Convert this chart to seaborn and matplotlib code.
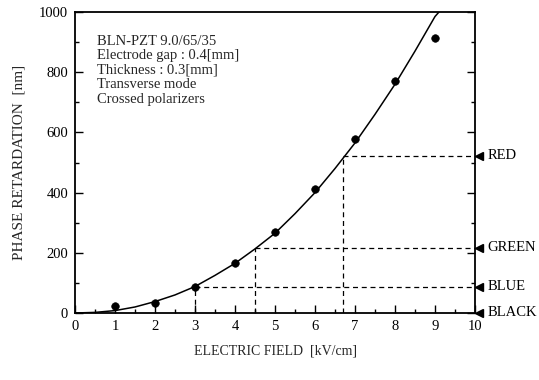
import matplotlib
matplotlib.use("Agg")
import matplotlib.pyplot as plt
import matplotlib.transforms as mtransforms
import seaborn as sns
import pandas as pd
from matplotlib.ticker import MultipleLocator

# measured points
field = [1, 2, 3, 4, 5, 6, 7, 8, 9]
retard = [23, 33, 86, 166, 269, 412, 578, 771, 915]

# fitted curve
curve_x = [0, 0.5, 1, 1.5, 2, 2.5, 3, 3.5, 4, 4.5, 5, 5.5, 6, 6.5, 7, 7.5, 8, 8.5, 9, 9.1]
curve_y = [0, 2, 8, 20, 38, 60, 88, 125, 165, 213, 265, 330, 400, 480, 565, 660, 760, 870, 985, 1000]

# colour levels: name, retardation, field
color_names = ["RED", "GREEN", "BLUE", "BLACK"]
color_levels = [523, 216, 88, 0]
color_fields = [6.7, 4.5, 3.0, 0.0]

notes = ["BLN-PZT 9.0/65/35", "Electrode gap : 0.4[mm]", "Thickness : 0.3[mm]",
         "Transverse mode", "Crossed polarizers"]

sns.set_theme(style="ticks")
plt.rcParams['font.family'] = ['Liberation Serif', 'DejaVu Serif']
plt.rcParams['font.size'] = 10

fig = plt.figure(figsize=(5.39, 3.8), dpi=100)
ax = fig.add_axes([75/539, 67/380, 400/539, 301/380])

df_pts = pd.DataFrame({"x": field, "y": retard})
df_curve = pd.DataFrame({"x": curve_x, "y": curve_y})
sns.lineplot(data=df_curve, x="x", y="y", ax=ax, color="black", lw=1.1, sort=False)
sns.scatterplot(data=df_pts, x="x", y="y", ax=ax, color="black", s=30, edgecolor="black", zorder=5)

tri_tr = ax.get_yaxis_transform() + mtransforms.ScaledTranslation(4.5/100, 0, fig.dpi_scale_trans)
for name, lvl, fx in zip(color_names, color_levels, color_fields):
    if lvl > 0:
        ax.plot([fx, 10], [lvl, lvl], ls=(0, (4, 3)), color="black", lw=0.9)
        ax.plot([fx, fx], [0, lvl], ls=(0, (4, 3)), color="black", lw=0.9)
    ax.plot([1.0], [lvl], marker="<", color="black", markersize=6,
            transform=tri_tr, clip_on=False)
    ax.annotate(name, xy=(1.0, lvl), xycoords=ax.get_yaxis_transform(),
                xytext=(9, 0), textcoords="offset points", va="center", ha="left",
                fontsize=10.5, color="black")

ax.text(0.055, 0.925, "\n".join(notes), transform=ax.transAxes, va="top", ha="left",
        fontsize=10.5, linespacing=1.15)

ax.set_xlim(0, 10)
ax.set_ylim(0, 1000)
ax.xaxis.set_major_locator(MultipleLocator(1))
ax.xaxis.set_minor_locator(MultipleLocator(0.5))
ax.yaxis.set_major_locator(MultipleLocator(200))
ax.yaxis.set_minor_locator(MultipleLocator(100))
ax.tick_params(which="both", direction="in", right=True, top=False, colors="black",
               labelsize=10.5, width=1)
ax.tick_params(which="major", length=6, pad=5)
ax.tick_params(which="minor", length=3)
for s in ax.spines.values():
    s.set_color("black")
    s.set_linewidth(1.3)

ax.set_xlabel("ELECTRIC FIELD  [kV/cm]", fontsize=10, labelpad=8)
ax.set_ylabel("PHASE RETARDATION  [nm]", fontsize=11, labelpad=10)

fig.savefig("out.png", dpi=100, facecolor="white")
